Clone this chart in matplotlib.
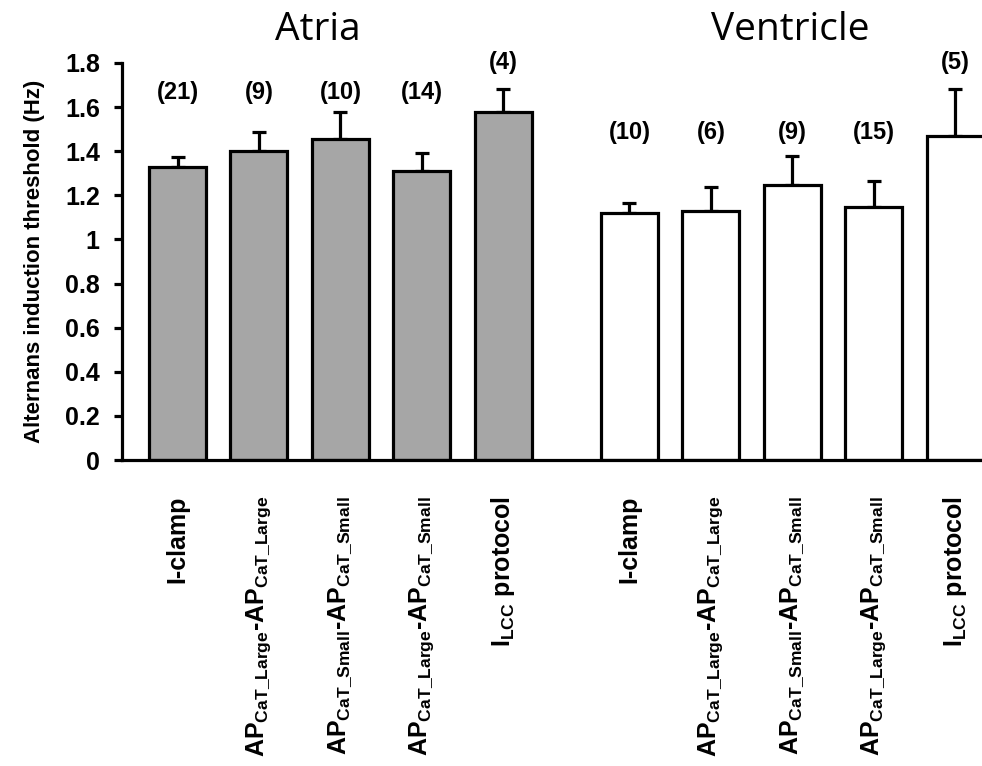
import numpy as np
import matplotlib
matplotlib.use("Agg")
import matplotlib.pyplot as plt

plt.rcParams['font.family'] = ['Liberation Sans', 'DejaVu Sans']
plt.rcParams['font.weight'] = 'bold'
plt.rcParams['mathtext.fontset'] = 'custom'
plt.rcParams['mathtext.rm'] = 'Liberation Sans:bold'
plt.rcParams['mathtext.it'] = 'Liberation Sans:bold'
plt.rcParams['mathtext.bf'] = 'Liberation Sans:bold'

# ---- data ----
labels = [
    "I-clamp",
    r"AP$_{\mathrm{CaT\_Large}}$-AP$_{\mathrm{CaT\_Large}}$",
    r"AP$_{\mathrm{CaT\_Small}}$-AP$_{\mathrm{CaT\_Small}}$",
    r"AP$_{\mathrm{CaT\_Large}}$-AP$_{\mathrm{CaT\_Small}}$",
    r"I$_{\mathrm{LCC}}$ protocol",
]
atria_values = [1.33, 1.40, 1.455, 1.31, 1.58]
atria_err = [0.045, 0.085, 0.125, 0.08, 0.10]
atria_n = ["(21)", "(9)", "(10)", "(14)", "(4)"]
ventricle_values = [1.12, 1.13, 1.245, 1.148, 1.47]
ventricle_err = [0.045, 0.108, 0.135, 0.117, 0.21]
ventricle_n = ["(10)", "(6)", "(9)", "(15)", "(5)"]
atria_n_y = [1.664, 1.664, 1.664, 1.664, 1.80]
ventricle_n_y = [1.487, 1.487, 1.487, 1.487, 1.80]
yticks = [0, 0.2, 0.4, 0.6, 0.8, 1, 1.2, 1.4, 1.6, 1.8]
ytick_labels = ["0", "0.2", "0.4", "0.6", "0.8", "1", "1.2", "1.4", "1.6", "1.8"]

W, H = 982, 766
fig = plt.figure(figsize=(W / 100, H / 100), dpi=100)
ax = fig.add_axes([122 / W, 1 - 460 / H, 1 - 122 / W, (460 - 63) / H])

xa = np.arange(5)
xv = np.arange(5) + 5.55
lw = 2.3

ax.bar(xa, atria_values, width=0.7, color="#a6a6a6", edgecolor="black", linewidth=lw, zorder=2)
ax.bar(xv, ventricle_values, width=0.7, color="white", edgecolor="black", linewidth=lw, zorder=2)
ax.errorbar(xa, atria_values, yerr=[np.zeros(5), atria_err], fmt="none", ecolor="black",
            elinewidth=lw, capsize=5, capthick=lw, zorder=1)
ax.errorbar(xv, ventricle_values, yerr=[np.zeros(5), ventricle_err], fmt="none", ecolor="black",
            elinewidth=lw, capsize=5, capthick=lw, zorder=1)

for x, t, y in zip(xa, atria_n, atria_n_y):
    ax.text(x, y, t, ha="center", va="center", fontsize=17, fontweight="bold", clip_on=False)
for x, t, y in zip(xv, ventricle_n, ventricle_n_y):
    ax.text(x, y, t, ha="center", va="center", fontsize=17, fontweight="bold", clip_on=False)

ax.set_xlim(-0.682, 9.88)
ax.set_ylim(0, 1.8)
ax.set_yticks(yticks)
ax.set_yticklabels(ytick_labels, fontsize=18, fontweight="bold")
ax.set_xticks(np.concatenate([xa, xv]))
ax.set_xticklabels(labels + labels, rotation=90, fontsize=18, fontweight="bold", va="top", ha="center")
ax.tick_params(axis="x", length=0, pad=26)
ax.tick_params(axis="y", direction="out", length=6, width=lw, pad=10)

for s in ["top", "right"]:
    ax.spines[s].set_visible(False)
ax.spines["left"].set_linewidth(lw)
ax.spines["bottom"].set_linewidth(lw)

ax.set_ylabel("Alternans induction threshold (Hz)", fontsize=16, fontweight="bold", labelpad=14)

fig.text(318 / W, 1 - 30 / H, "Atria", ha="center", va="center", fontsize=28,
         fontweight="normal", family="Open Sans")
fig.text(790 / W, 1 - 30 / H, "Ventricle", ha="center", va="center", fontsize=28,
         fontweight="normal", family="Open Sans")

fig.savefig("out.png", dpi=100)
